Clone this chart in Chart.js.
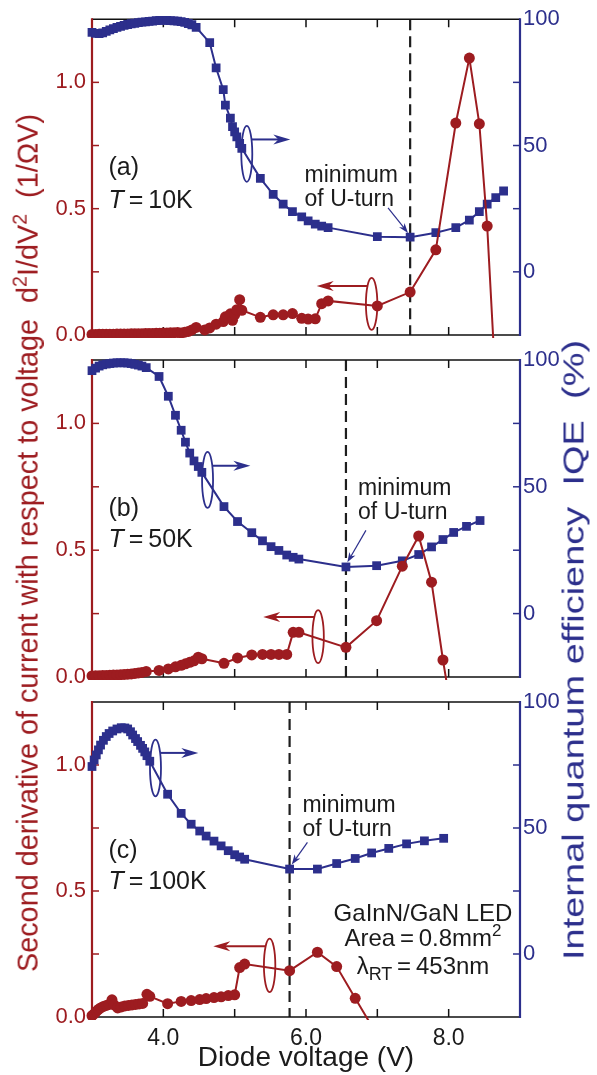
<!DOCTYPE html>
<html>
<head>
<meta charset="utf-8">
<script src="https://cdn.jsdelivr.net/npm/chart.js@4.4.9/dist/chart.umd.min.js"></script>
<style>
  body { margin: 0; background: #fff; width: 597px; height: 1075px; position: relative; overflow: hidden;
         font-family: "Liberation Sans", Arial, Helvetica, sans-serif; }
  canvas { position: absolute; left: 0; top: 0; width: 597px; height: 1075px; }
  .ytitle { position: absolute; white-space: nowrap; line-height: 1; }
  .ytitle sup { font-size: 0.68em; vertical-align: 0.55em; line-height: 0; }
  #ltitle { left: 28px; top: 543px; color: #9d1c20; font-size: 28.8px;
            transform: translate(-50%, -50%) rotate(-90deg); }
  #rtitle { left: 574px; top: 650px; color: #2c2f8c; font-size: 29px;
            transform: translate(-50%, -50%) rotate(-90deg) scaleX(1.31); }
</style>
</head>
<body>
<canvas id="panelA" width="597" height="1075"></canvas>
<canvas id="panelB" width="597" height="1075"></canvas>
<canvas id="panelC" width="597" height="1075"></canvas>
<div class="ytitle" id="ltitle">Second derivative of current with respect to voltage&nbsp; d<sup>2</sup>I/dV<sup>2</sup>&nbsp; (1/&Omega;V)</div>
<div class="ytitle" id="rtitle">Internal quantum efficiency&nbsp; IQE&nbsp; (%)</div>
<script>
// ---- data ----
// (a) T = 10K
const voltsIqeA = [3.00,3.05,3.10,3.15,3.20,3.25,3.30,3.35,3.40,3.45,3.50,3.55,3.60,3.65,3.70,3.75,3.80,3.85,3.90,3.95,4.00,4.05,4.10,4.15,4.20,4.25,4.30,4.35,4.40,4.46,4.65,4.74,4.84,4.87,4.94,4.97,5.00,5.03,5.07,5.10,5.36,5.54,5.68,5.81,5.94,6.03,6.13,6.22,6.31,7.00,7.46,7.82,8.10,8.29,8.43,8.54,8.66,8.77];
const iqeA = [94.8,94.4,94.3,94.6,95.2,95.8,96.3,96.8,97.2,97.6,97.9,98.2,98.4,98.6,98.8,98.9,99.1,99.2,99.4,99.5,99.5,99.5,99.4,99.3,99.2,99.0,98.7,98.3,97.8,96.8,90.7,80.7,72.1,66.0,60.8,57.5,55.4,53.4,50.8,48.9,37.0,30.7,26.8,23.8,21.8,20.2,18.9,18.1,17.5,13.9,13.7,15.5,17.5,20.5,23.8,26.8,29.4,32.0];
const voltsD2A = [3.00,3.05,3.10,3.15,3.20,3.25,3.30,3.35,3.40,3.45,3.50,3.55,3.60,3.65,3.70,3.75,3.80,3.85,3.90,3.95,4.00,4.05,4.10,4.15,4.20,4.25,4.30,4.35,4.40,4.46,4.58,4.65,4.74,4.84,4.87,4.94,4.97,5.00,5.03,5.07,5.10,5.36,5.54,5.68,5.81,5.94,6.03,6.13,6.22,6.31,7.00,7.46,7.82,8.10,8.29,8.43,8.54,8.66];
const d2A = [0.002,0.002,0.003,0.003,0.003,0.003,0.003,0.004,0.004,0.004,0.004,0.005,0.005,0.005,0.005,0.006,0.006,0.006,0.007,0.007,0.008,0.008,0.009,0.009,0.010,0.008,0.011,0.014,0.020,0.030,0.020,0.028,0.043,0.053,0.072,0.084,0.058,0.080,0.100,0.140,0.098,0.070,0.080,0.080,0.085,0.066,0.063,0.064,0.124,0.135,0.115,0.170,0.337,0.839,1.096,0.836,0.431,-0.200];

// (b) T = 50K
const voltsIqeB = [3.00,3.05,3.10,3.15,3.20,3.25,3.30,3.35,3.40,3.45,3.50,3.55,3.60,3.65,3.70,3.76,3.94,4.07,4.17,4.25,4.31,4.37,4.43,4.49,4.54,4.85,5.04,5.24,5.39,5.51,5.62,5.73,5.82,5.90,6.56,6.99,7.35,7.58,7.76,7.92,8.07,8.25,8.44];
const iqeB = [95.8,96.8,97.6,98.1,98.4,98.6,98.8,98.9,98.9,98.9,98.8,98.6,98.3,98.0,97.6,97.0,93.5,85.7,78.2,72.3,67.6,63.3,60.2,58.0,55.7,42.2,36.3,31.9,28.7,26.4,24.9,23.1,22.2,21.5,18.4,18.9,20.8,23.3,26.3,29.2,32.0,34.4,36.7];
const voltsD2B = [3.00,3.05,3.10,3.15,3.20,3.25,3.30,3.35,3.40,3.45,3.50,3.55,3.60,3.65,3.70,3.76,3.94,4.07,4.17,4.25,4.31,4.37,4.43,4.49,4.54,4.85,5.04,5.24,5.39,5.51,5.62,5.73,5.82,5.90,6.56,6.99,7.35,7.58,7.76,7.92,8.07];
const d2B = [0.004,0.005,0.005,0.006,0.006,0.007,0.008,0.008,0.009,0.010,0.011,0.012,0.014,0.016,0.018,0.022,0.026,0.032,0.040,0.046,0.052,0.058,0.064,0.078,0.072,0.054,0.075,0.087,0.089,0.089,0.089,0.089,0.176,0.176,0.117,0.222,0.437,0.556,0.374,0.067,-0.190];

// (c) T = 100K
const voltsIqeC = [3.00,3.03,3.06,3.09,3.12,3.16,3.20,3.24,3.29,3.35,3.41,3.46,3.50,3.54,3.57,3.61,3.64,3.68,3.71,3.74,3.77,3.81,4.06,4.25,4.39,4.51,4.60,4.71,4.81,4.91,5.00,5.07,5.14,5.77,6.16,6.43,6.69,6.92,7.16,7.41,7.66,7.93];
const iqeC = [74.4,77.0,79.0,81.0,82.9,84.8,86.3,87.5,88.5,89.3,89.8,89.7,89.3,88.2,86.9,85.5,84.3,82.8,81.6,80.2,78.7,76.5,63.4,55.8,51.5,48.8,46.8,44.8,42.9,41.0,39.4,38.5,37.6,33.7,33.7,35.9,37.9,40.1,41.9,43.7,44.9,45.9];
const voltsD2C = [3.00,3.03,3.06,3.09,3.12,3.16,3.20,3.24,3.28,3.31,3.36,3.41,3.46,3.51,3.56,3.61,3.66,3.71,3.77,3.81,4.06,4.25,4.39,4.51,4.60,4.71,4.81,4.91,5.00,5.07,5.14,5.77,6.16,6.43,6.69,6.92];
const d2C = [0.005,0.012,0.022,0.030,0.036,0.042,0.046,0.050,0.068,0.048,0.036,0.040,0.044,0.046,0.048,0.050,0.052,0.054,0.090,0.082,0.053,0.062,0.065,0.069,0.073,0.077,0.080,0.085,0.088,0.196,0.210,0.184,0.257,0.200,0.074,-0.035];

// U-turn voltages (dashed lines), panel labels, tick labels
const uturnV = [7.46, 6.56, 5.77];
const panelLetters = ['(a)', '(b)', '(c)'];
const temps = ['10K', '50K', '100K'];
const xLabelled = [4, 6, 8];
const leftLabelled = [0, 0.5, 1];
const rightLabelled = [0, 50, 100];

const RED = '#9d1c20';
const BLUE = '#2c2f8c';
const INK = '#1b1b1b';
const FAMILY = '"Liberation Sans", Arial, Helvetica, sans-serif';
Chart.defaults.font.family = FAMILY;

function pts(xs, ys) { return xs.map((x, i) => ({ x: x, y: ys[i] })); }
function font(size, italic) { return (italic ? 'italic ' : '') + size + 'px ' + FAMILY; }
function near(list, v) { return list.some(l => Math.abs(l - v) < 1e-6); }

function drawArrow(ctx, x1, y1, x2, y2, color, lw, len, half) {
  const a = Math.atan2(y2 - y1, x2 - x1);
  const c = Math.cos(a), s = Math.sin(a);
  const bx = x2 - len * c, by = y2 - len * s;
  ctx.strokeStyle = color; ctx.fillStyle = color; ctx.lineWidth = lw;
  ctx.beginPath(); ctx.moveTo(x1, y1); ctx.lineTo(x2 - len * 0.6 * c, y2 - len * 0.6 * s); ctx.stroke();
  ctx.beginPath();
  ctx.moveTo(x2, y2);
  ctx.lineTo(bx + half * s, by - half * c);
  ctx.lineTo(x2 - len * 0.7 * c, y2 - len * 0.7 * s);
  ctx.lineTo(bx - half * s, by + half * c);
  ctx.closePath(); ctx.fill();
}

// parts: [{t, size, italic, dy}] drawn on one line, y is the baseline
function richText(ctx, parts, x, y, align, color) {
  let w = 0;
  parts.forEach(p => { ctx.font = font(p.size, p.italic); p.w = ctx.measureText(p.t).width; w += p.w; });
  let cx = align === 'center' ? x - w / 2 : x;
  ctx.fillStyle = color; ctx.textAlign = 'left'; ctx.textBaseline = 'alphabetic';
  parts.forEach(p => { ctx.font = font(p.size, p.italic); ctx.fillText(p.t, cx, y + (p.dy || 0)); cx += p.w; });
}

const panelNotes = [
  { letter: { x: 3.23, y: 0.669, tY: 0.54 },
    blueLoop: { x: 5.17, y: 46.7, ry: 28, arrowY: 52.4, arrowTo: 5.78 },
    redLoop: { x: 6.92, y: 0.123, ry: 26, arrowY: 0.194, arrowTo: 6.15 },
    note: { x: 5.98, y: 38.2 },
    pointer: { x1: 7.15, y1: 25.3, x2: 7.43, y2: 15.4 } },
  { letter: { x: 3.23, y: 0.672, tY: 0.547 },
    blueLoop: { x: 4.62, y: 52.7, ry: 28, arrowY: 58.3, arrowTo: 5.22 },
    redLoop: { x: 6.17, y: 0.159, ry: 26.5, arrowY: 0.237, arrowTo: 5.40 },
    note: { x: 6.73, y: 49.4 },
    pointer: { x1: 6.84, y1: 32.8, x2: 6.58, y2: 20.2 } },
  { letter: { x: 3.23, y: 0.667, tY: 0.542 },
    blueLoop: { x: 3.89, y: 73.8, ry: 28.3, arrowY: 79.8, arrowTo: 4.49 },
    redLoop: { x: 5.49, y: 0.205, ry: 26.7, arrowY: 0.281, arrowTo: 4.70 },
    note: { x: 5.95, y: 59.3 },
    pointer: { x1: 6.02, y1: 44.3, x2: 5.80, y2: 35.5 },
    device: { x: 7.64, y: [0.416, 0.317, 0.205] } }
];

const deco = {
  id: 'deco',
  beforeDatasetsDraw(chart, args, o) {
    const { ctx, chartArea: a, scales: { x, yL, yR } } = chart;
    ctx.save();
    // dashed U-turn line
    const ux = x.getPixelForValue(o.uturn);
    ctx.strokeStyle = '#1e1e1e'; ctx.lineWidth = 2.2; ctx.setLineDash([11, 6]);
    ctx.beginPath(); ctx.moveTo(ux, a.top); ctx.lineTo(ux, a.bottom); ctx.stroke();
    ctx.setLineDash([]);
    // frame
    ctx.lineWidth = 1.6; ctx.strokeStyle = '#111';
    ctx.beginPath(); ctx.moveTo(a.left, a.top); ctx.lineTo(a.right, a.top);
    ctx.moveTo(a.left, a.bottom); ctx.lineTo(a.right, a.bottom); ctx.stroke();
    // inward ticks
    ctx.lineWidth = 1.5;
    x.ticks.forEach(t => {
      const p = x.getPixelForValue(t.value);
      if (p < a.left + 2 || p > a.right - 2) return;
      ctx.beginPath(); ctx.moveTo(p, a.bottom); ctx.lineTo(p, a.bottom - 8);
      ctx.moveTo(p, a.top); ctx.lineTo(p, a.top + 8); ctx.stroke();
    });
    ctx.strokeStyle = RED;
    yL.ticks.forEach(t => {
      const p = yL.getPixelForValue(t.value);
      if (p > a.bottom - 2 || p < a.top + 2) return;
      ctx.beginPath(); ctx.moveTo(a.left, p); ctx.lineTo(a.left + 7, p); ctx.stroke();
    });
    ctx.strokeStyle = BLUE;
    yR.ticks.forEach(t => {
      const p = yR.getPixelForValue(t.value);
      if (p > a.bottom - 2 || p < a.top + 2) return;
      ctx.beginPath(); ctx.moveTo(a.right, p); ctx.lineTo(a.right - 7, p); ctx.stroke();
    });
    ctx.lineWidth = 2.2;
    ctx.strokeStyle = RED;
    ctx.beginPath(); ctx.moveTo(a.left, a.top - 1); ctx.lineTo(a.left, a.bottom + 1); ctx.stroke();
    ctx.strokeStyle = BLUE;
    ctx.beginPath(); ctx.moveTo(a.right, a.top - 1); ctx.lineTo(a.right, a.bottom + 1); ctx.stroke();
    ctx.restore();
  },
  afterDatasetsDraw(chart, args, o) {
    const { ctx, scales: { x, yL, yR } } = chart;
    const X = v => x.getPixelForValue(v);
    ctx.save();
    // loop + arrow pointing to the right axis (IQE)
    const b = o.blueLoop, bx = X(b.x), by = yR.getPixelForValue(b.y);
    ctx.strokeStyle = BLUE; ctx.lineWidth = 1.8;
    ctx.beginPath(); ctx.ellipse(bx, by, 5.5, b.ry, 0, 0, Math.PI * 2); ctx.stroke();
    const bay = yR.getPixelForValue(b.arrowY);
    const bdx = 5.5 * Math.sqrt(Math.max(0, 1 - Math.pow((bay - by) / b.ry, 2)));
    drawArrow(ctx, bx + bdx, bay, X(b.arrowTo), bay, BLUE, 2, 17, 5);
    // loop + arrow pointing to the left axis
    const r = o.redLoop, rx = X(r.x), ry = yL.getPixelForValue(r.y);
    ctx.strokeStyle = RED; ctx.lineWidth = 1.8;
    ctx.beginPath(); ctx.ellipse(rx, ry, 5.7, r.ry, 0, 0, Math.PI * 2); ctx.stroke();
    const ray = yL.getPixelForValue(r.arrowY);
    const rdx = 5.7 * Math.sqrt(Math.max(0, 1 - Math.pow((ray - ry) / r.ry, 2)));
    drawArrow(ctx, rx - rdx, ray, X(r.arrowTo), ray, RED, 2, 17, 5);
    // "minimum of U-turn"
    const nx = X(o.note.x), ny = yR.getPixelForValue(o.note.y);
    richText(ctx, [{ t: 'minimum', size: 23 }], nx, ny + 7, 'left', INK);
    richText(ctx, [{ t: 'of U-turn', size: 23 }], nx, ny + 31, 'left', INK);
    const pa = o.pointer;
    drawArrow(ctx, X(pa.x1), yR.getPixelForValue(pa.y1), X(pa.x2), yR.getPixelForValue(pa.y2), BLUE, 1.2, 10, 3.5);
    // panel letter and temperature
    const lx = X(o.letter.x);
    richText(ctx, [{ t: o.letterText, size: 25 }], lx, yL.getPixelForValue(o.letter.y) + 9, 'left', INK);
    richText(ctx, [{ t: 'T', size: 25, italic: true }, { t: '\u2009=\u2009' + o.temp, size: 25 }],
             lx, yL.getPixelForValue(o.letter.tY) + 9, 'left', INK);
    // device description
    if (o.device) {
      const dx = X(o.device.x), ys = o.device.y.map(v => yL.getPixelForValue(v) + 9);
      richText(ctx, [{ t: 'GaInN/GaN LED', size: 24 }], dx, ys[0], 'center', INK);
      richText(ctx, [{ t: 'Area\u2009=\u20090.8mm', size: 24 }, { t: '2', size: 17, dy: -10 }], dx, ys[1], 'center', INK);
      richText(ctx, [{ t: '\u03bb', size: 24 }, { t: 'RT', size: 18, dy: 6 }, { t: '\u2009=\u2009453nm', size: 24 }], dx, ys[2], 'center', INK);
    }
    ctx.restore();
  }
};

function makePanel(id, idx, iqeX, iqeY, d2X, d2Y, plotTop, plotBottom, bottomPanel) {
  const notes = Object.assign({ uturn: uturnV[idx], letterText: panelLetters[idx], temp: temps[idx] }, panelNotes[idx]);
  return new Chart(document.getElementById(id), {
    type: 'line',
    data: {
      datasets: [
        { label: 'd2I/dV2', data: pts(d2X, d2Y), yAxisID: 'yL', borderColor: RED, backgroundColor: RED,
          pointBorderColor: RED, pointBackgroundColor: RED, pointStyle: 'circle', pointRadius: 5.5,
          pointBorderWidth: 0, borderWidth: 2, tension: 0, clip: { left: 8, right: 8, top: 8, bottom: 3 } },
        { label: 'IQE', data: pts(iqeX, iqeY), yAxisID: 'yR', borderColor: BLUE, backgroundColor: BLUE,
          pointBorderColor: BLUE, pointBackgroundColor: BLUE, pointStyle: 'rect', pointRadius: 6.2,
          pointBorderWidth: 0, borderWidth: 2, tension: 0, clip: 8 }
      ]
    },
    options: {
      responsive: false, animation: false, devicePixelRatio: 1,
      layout: { padding: { top: plotTop, left: 0, right: 0, bottom: 0 } },
      plugins: { legend: { display: false }, tooltip: { enabled: false }, deco: notes },
      scales: {
        x: {
          type: 'linear', position: 'bottom', min: 3, max: 9,
          grid: { display: false, drawTicks: false }, border: { display: false },
          ticks: { display: bottomPanel, stepSize: 1, autoSkip: false, maxRotation: 0, padding: 8,
                   color: INK, font: { size: 23 },
                   callback: v => near(xLabelled, v) ? v.toFixed(1) : '' },
          title: { display: bottomPanel, text: 'Diode voltage (V)', color: INK, font: { size: 28 },
                   padding: { top: 0, bottom: 0 } },
          afterFit: s => { s.height = 1075 - plotBottom; }
        },
        yL: {
          type: 'linear', position: 'left', min: 0, max: 1.25,
          grid: { display: false, drawTicks: false }, border: { display: false },
          ticks: { stepSize: 0.25, autoSkip: false, padding: 6, color: RED, font: { size: 22 },
                   callback: v => near(leftLabelled, v) ? v.toFixed(1) : '' },
          afterFit: s => { s.width = 92; }
        },
        yR: {
          type: 'linear', position: 'right', min: -25, max: 100,
          grid: { display: false, drawTicks: false }, border: { display: false },
          ticks: { stepSize: 25, autoSkip: false, padding: 3, color: BLUE, font: { size: 22 },
                   callback: v => near(rightLabelled, v) ? String(v) : '' },
          afterFit: s => { s.width = 77; }
        }
      }
    },
    plugins: [deco]
  });
}

makePanel('panelA', 0, voltsIqeA, iqeA, voltsD2A, d2A, 19, 335, false);
makePanel('panelB', 1, voltsIqeB, iqeB, voltsD2B, d2B, 360, 677, false);
makePanel('panelC', 2, voltsIqeC, iqeC, voltsD2C, d2C, 702, 1017, true);
</script>
</body>
</html>
